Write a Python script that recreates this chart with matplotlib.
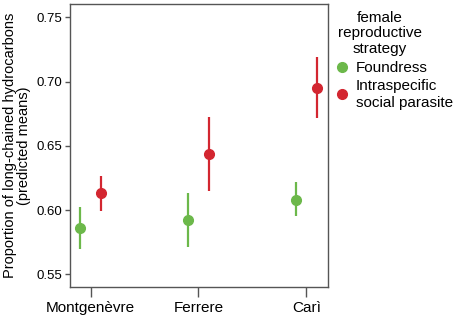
import matplotlib
matplotlib.use('Agg')
import matplotlib.pyplot as plt
from matplotlib.lines import Line2D

plt.rcParams['font.family'] = ['Liberation Sans', 'DejaVu Sans']

sites = ['Montgenèvre', 'Ferrere', 'Carì']

# predicted means with lower / upper interval bounds
foundress_mean = [0.586, 0.592, 0.608]
foundress_low = [0.570, 0.571, 0.595]
foundress_high = [0.602, 0.613, 0.622]

parasite_mean = [0.613, 0.644, 0.695]
parasite_low = [0.5995, 0.6145, 0.672]
parasite_high = [0.6265, 0.6725, 0.719]

green = '#6cb84a'
red = '#d32630'

fig = plt.figure(figsize=(4.59, 3.20), dpi=100)
ax = fig.add_axes([70 / 459, 1 - 287 / 320, 258 / 459, 283 / 320])

def draw_group(means, lows, highs, offset, color):
    for i, (m, lo, hi) in enumerate(zip(means, lows, highs)):
        ax.plot([i + offset, i + offset], [lo, hi], color=color, lw=1.6,
                solid_capstyle='butt')
        ax.plot(i + offset, m, 'o', color=color, ms=7, mec=color)

draw_group(foundress_mean, foundress_low, foundress_high, -0.1, green)
draw_group(parasite_mean, parasite_low, parasite_high, 0.1, red)

ax.set_xlim(-0.19, 2.2)
ax.set_ylim(0.5401, 0.7604)
ax.set_xticks(range(len(sites)))
ax.set_xticklabels(sites, fontsize=11)
ax.set_yticks([0.55, 0.60, 0.65, 0.70, 0.75])
ax.set_yticklabels(['0.55', '0.60', '0.65', '0.70', '0.75'], fontsize=9.5)
ax.tick_params(axis='x', length=7, width=1, color='#555555', pad=3)
ax.tick_params(axis='y', length=3.5, width=1, color='#555555', pad=2)
for s in ax.spines.values():
    s.set_color('#555555')
    s.set_linewidth(1)

ax.set_ylabel('Proportion of long-chained hydrocarbons\n(predicted means)',
              fontsize=10.5, linespacing=1.0, labelpad=4)

# legend title placed by hand so it sits left of centre like the original
fig.text(380 / 459, 1 - 11 / 320, 'female\nreproductive\nstrategy',
         ha='center', va='top', fontsize=11, linespacing=1.12,
         multialignment='center')

handles = [
    Line2D([], [], marker='o', ls='none', color=green, ms=7),
    Line2D([], [], marker='o', ls='none', color=red, ms=7),
]
leg = fig.legend(handles, ['Foundress', 'Intraspecific\nsocial parasite'],
                 loc='upper left', bbox_to_anchor=(336 / 459, 1 - 61 / 320),
                 frameon=False, fontsize=11,
                 handletextpad=0.5, handlelength=0.8, borderaxespad=0,
                 borderpad=0, labelspacing=0.25)
for t in leg.get_texts():
    t.set_linespacing(1.25)

fig.savefig('out.png', dpi=100)
